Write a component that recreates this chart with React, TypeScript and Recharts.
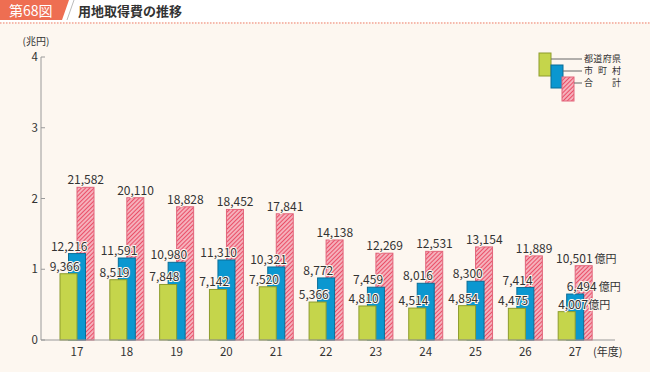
import { Bar, BarChart, LabelList, XAxis, YAxis } from 'recharts';

const years = ['17', '18', '19', '20', '21', '22', '23', '24', '25', '26', '27'];
const prefecture = [9366, 8519, 7848, 7142, 7520, 5366, 4810, 4514, 4854, 4475, 4007];
const municipal = [12216, 11591, 10980, 11310, 10321, 8772, 7459, 8016, 8300, 7414, 6494];
const total = [21582, 20110, 18828, 18452, 17841, 14138, 12269, 12531, 13154, 11889, 10501];
const yTicks = [0, 10000, 20000, 30000, 40000];

const data = years.map((year, i) => ({
  year,
  pref: prefecture[i],
  city: municipal[i],
  total: total[i],
}));

const FONT = '"Noto Sans CJK JP", "Noto Sans", sans-serif';
const BAR = 17;
const BG = '#fdf7f0';
const GREEN = '#c5d54b';
const GREEN_EDGE = '#8e9c2c';
const BLUE = '#0b97d0';
const BLUE_EDGE = '#0b6d96';
const PINK_EDGE = '#e2657b';
const AXIS = '#9a9a9a';
const LAST = years.length - 1;

// rough width of a number string at 12px
const numWidth = (s: string) => {
  let w = 0;
  for (const ch of s) w += ch === ',' ? 3.2 : 6.6;
  return w;
};

const shiftedRect = (shift: number, fill: string, stroke: string) => (props: any) => (
  <rect
    x={props.x + shift}
    y={props.y}
    width={props.width}
    height={props.height}
    fill={fill}
    stroke={stroke}
    strokeWidth={1}
  />
);

const makeLabel = (kind: 'pref' | 'city' | 'total') => (props: any) => {
  const { x, y, width, value, index } = props;
  const text = Number(value).toLocaleString('en-US');
  const w = numWidth(text);
  let start: number;
  if (kind === 'pref') {
    const bx = x - BAR;
    start = index === LAST ? bx : bx + width / 2 - 4 - w / 2;
  } else if (kind === 'city') {
    start = index === LAST ? x : x + width / 2 - 8 - w / 2;
  } else {
    const bx = x + BAR;
    start = index === LAST ? bx + width - w : bx + width / 2 - w / 2;
  }
  return (
    <text
      x={start}
      y={y - 3}
      fontSize={12}
      fontFamily={FONT}
      fill="#333"
      stroke={BG}
      strokeWidth={2}
      paintOrder="stroke"
      textAnchor="start"
    >
      {text}
      {index === LAST && <tspan dx={kind === 'pref' ? 0 : 2} fontSize={11}>億円</tspan>}
    </text>
  );
};

const YTick = (props: any) => {
  const { x, y, payload } = props;
  return (
    <g>
      <line x1={x + 3} x2={x + 7} y1={y} y2={y} stroke={AXIS} />
      <text x={x} y={y} dy="0.35em" textAnchor="end" fontSize={11.5} fontFamily={FONT} fill="#333">
        {payload.value / 10000}
      </text>
    </g>
  );
};

const App = () => {
  return (
    <div style={{ position: 'absolute', left: 0, top: 0, width: 650, height: 372, background: BG }}>
      <svg width={650} height={372} style={{ position: 'absolute', left: 0, top: 0 }}>
        <defs>
          <pattern id="hatch" patternUnits="userSpaceOnUse" width={3} height={3} patternTransform="rotate(45)">
            <rect width={3} height={3} fill="#fff" />
            <line x1={1.5} y1={0} x2={1.5} y2={3} stroke="#ea4f68" strokeWidth={1.9} />
          </pattern>
        </defs>
        <rect x={0} y={0} width={650} height={22} fill="#fff" />
        <polygon points="0,0 69,0 62,20 0,20" fill="#ee6e52" />
        <line x1={74} y1={0} x2={67} y2={20} stroke="#bbb" strokeWidth={1} />
        <text x={9} y={16} fontSize={14} fontFamily={FONT} fill="#fff">
          第68図
        </text>
        <text x={78} y={16} fontSize={13} fontWeight={700} fontFamily={FONT} fill="#333">
          用地取得費の推移
        </text>
        <line x1={0} y1={23} x2={650} y2={23} stroke="#ef7d6a" strokeWidth={1.2} strokeDasharray="1.5 1.5" />
        <text x={36} y={45} textAnchor="middle" fontSize={10} fontFamily={FONT} fill="#333">
          (兆円)
        </text>
        <text x={593} y={356} fontSize={11} fontFamily={FONT} fill="#333">
          (年度)
        </text>
        {/* legend */}
        <rect x={539} y={53} width={12} height={23} fill={GREEN} stroke={GREEN_EDGE} />
        <rect x={551} y={65} width={12} height={23} fill={BLUE} stroke={BLUE_EDGE} />
        <rect x={562} y={77} width={12} height={24} fill="url(#hatch)" stroke={PINK_EDGE} />
        <line x1={551} x2={582} y1={59} y2={59} stroke="#666" />
        <line x1={563} x2={582} y1={71} y2={71} stroke="#666" />
        <line x1={574} x2={582} y1={83} y2={83} stroke="#666" />
        <text x={584} y={62} fontSize={9} fontFamily={FONT} fill="#333" textLength={37} lengthAdjust="spacing">
          都道府県
        </text>
        <text x={584} y={74} fontSize={9} fontFamily={FONT} fill="#333" textLength={37} lengthAdjust="spacing">
          市町村
        </text>
        <text x={584} y={86} fontSize={9} fontFamily={FONT} fill="#333" textLength={37} lengthAdjust="spacing">
          合計
        </text>
      </svg>
      <div style={{ position: 'absolute', left: 0, top: 0 }}>
        <BarChart
          width={650}
          height={372}
          data={data}
          margin={{ top: 57, right: 35, bottom: 12, left: 0 }}
          barSize={BAR}
          barGap={-8.5}
        >
          <XAxis
            dataKey="year"
            stroke={AXIS}
            tickLine={false}
            padding={{ left: 11, right: 15 }}
            tick={{ fontSize: 11.5, fontFamily: FONT, fill: '#333' }}
            height={20}
          />
          <YAxis
            width={41}
            domain={[0, 40000]}
            ticks={yTicks}
            stroke={AXIS}
            tickLine={false}
            tickSize={0}
            tickMargin={3}
            tick={<YTick />}
          />
          <Bar dataKey="total" isAnimationActive={false} shape={shiftedRect(BAR, 'url(#hatch)', PINK_EDGE)}>
            <LabelList dataKey="total" content={makeLabel('total')} />
          </Bar>
          <Bar dataKey="city" isAnimationActive={false} shape={shiftedRect(0, BLUE, BLUE_EDGE)}>
            <LabelList dataKey="city" content={makeLabel('city')} />
          </Bar>
          <Bar dataKey="pref" isAnimationActive={false} shape={shiftedRect(-BAR, GREEN, GREEN_EDGE)}>
            <LabelList dataKey="pref" content={makeLabel('pref')} />
          </Bar>
        </BarChart>
      </div>
    </div>
  );
};

export default App;
